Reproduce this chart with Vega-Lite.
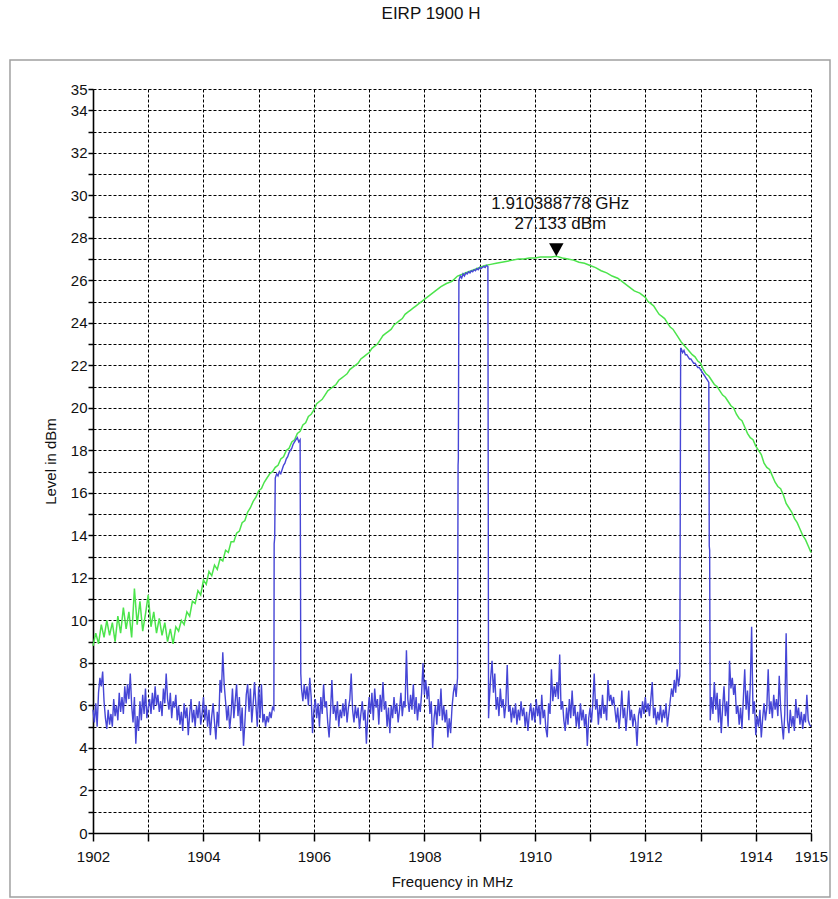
{
  "$schema": "https://vega.github.io/schema/vega-lite/v6.json",
  "width": 718,
  "height": 744,
  "autosize": {"type": "none"},
  "padding": {"left": 93, "top": 89, "right": 27, "bottom": 66},
  "background": "white",
  "title": {"text": "EIRP 1900 H", "fontSize": 17, "fontWeight": "normal", "font": "Liberation Sans", "color": "#111", "offset": 36, "dx": -21},
  "config": {
    "view": {"stroke": null},
    "font": "Liberation Sans",
    "axis": {
      "domainColor": "#000", "domainWidth": 1.6,
      "tickColor": "#000", "tickWidth": 1.5,
      "grid": true, "gridColor": "#000", "gridDash": [3, 2], "gridWidth": 1, "gridOpacity": 1,
      "labelFont": "Liberation Sans", "labelFontSize": 15, "labelColor": "#111",
      "labelFlush": false, "labelOverlap": false,
      "titleFont": "Liberation Sans", "titleFontSize": 15, "titleFontWeight": "normal", "titleColor": "#111"
    }
  },
  "datasets": {
    "maxhold": [
      {"f":1902.00,"v":8.8},{"f":1902.05,"v":9.4},{"f":1902.10,"v":8.9},{"f":1902.15,"v":9.8},{"f":1902.20,"v":9.2},{"f":1902.25,"v":10.0},{"f":1902.30,"v":9.3},{"f":1902.35,"v":9.9},{"f":1902.40,"v":9.0},{"f":1902.45,"v":10.2},
      {"f":1902.50,"v":9.4},{"f":1902.55,"v":10.6},{"f":1902.60,"v":9.6},{"f":1902.65,"v":10.4},{"f":1902.70,"v":9.2},{"f":1902.75,"v":11.5},{"f":1902.80,"v":9.8},{"f":1902.85,"v":10.9},{"f":1902.90,"v":9.5},{"f":1902.95,"v":10.3},
      {"f":1903.00,"v":11.2},{"f":1903.05,"v":9.7},{"f":1903.10,"v":10.4},{"f":1903.15,"v":9.4},{"f":1903.20,"v":10.1},{"f":1903.25,"v":9.3},{"f":1903.30,"v":9.9},{"f":1903.35,"v":9.0},{"f":1903.40,"v":9.6},{"f":1903.45,"v":8.9},
      {"f":1903.50,"v":9.7},{"f":1903.55,"v":9.5},{"f":1903.60,"v":10.0},{"f":1903.65,"v":9.8},{"f":1903.70,"v":10.4},{"f":1903.75,"v":10.2},{"f":1903.80,"v":10.9},{"f":1903.85,"v":10.8},{"f":1903.90,"v":11.4},{"f":1903.95,"v":11.2},
      {"f":1904.00,"v":11.9},{"f":1904.05,"v":11.7},{"f":1904.10,"v":12.3},{"f":1904.15,"v":12.1},{"f":1904.20,"v":12.6},{"f":1904.25,"v":12.4},{"f":1904.30,"v":12.9},{"f":1904.35,"v":12.8},{"f":1904.40,"v":13.3},{"f":1904.45,"v":13.2},
      {"f":1904.50,"v":13.7},{"f":1904.55,"v":13.7},{"f":1904.60,"v":14.1},{"f":1904.65,"v":14.2},{"f":1904.70,"v":14.6},{"f":1904.75,"v":14.7},{"f":1904.80,"v":15.1},{"f":1904.85,"v":15.3},{"f":1904.90,"v":15.6},{"f":1904.95,"v":15.8},
      {"f":1905.00,"v":16.1},{"f":1905.05,"v":16.2},{"f":1905.10,"v":16.5},{"f":1905.15,"v":16.7},{"f":1905.20,"v":16.9},{"f":1905.25,"v":17.0},{"f":1905.30,"v":17.2},{"f":1905.35,"v":17.3},{"f":1905.40,"v":17.6},{"f":1905.45,"v":17.7},
      {"f":1905.50,"v":18.0},{"f":1905.55,"v":18.1},{"f":1905.60,"v":18.4},{"f":1905.65,"v":18.5},{"f":1905.70,"v":18.8},{"f":1905.75,"v":18.9},{"f":1905.80,"v":19.2},{"f":1905.85,"v":19.3},{"f":1905.90,"v":19.6},{"f":1905.95,"v":19.7},
      {"f":1906.00,"v":19.9},{"f":1906.05,"v":20.2},{"f":1906.10,"v":20.3},{"f":1906.15,"v":20.4},{"f":1906.20,"v":20.6},{"f":1906.25,"v":20.8},{"f":1906.30,"v":20.9},{"f":1906.35,"v":21.0},{"f":1906.40,"v":21.1},{"f":1906.45,"v":21.3},
      {"f":1906.50,"v":21.4},{"f":1906.55,"v":21.5},{"f":1906.60,"v":21.6},{"f":1906.65,"v":21.8},{"f":1906.70,"v":21.9},{"f":1906.75,"v":22.0},{"f":1906.80,"v":22.1},{"f":1906.85,"v":22.3},{"f":1906.90,"v":22.4},{"f":1906.95,"v":22.5},
      {"f":1907.00,"v":22.6},{"f":1907.05,"v":22.8},{"f":1907.10,"v":22.9},{"f":1907.15,"v":23.0},{"f":1907.20,"v":23.2},{"f":1907.25,"v":23.4},{"f":1907.30,"v":23.5},{"f":1907.35,"v":23.6},{"f":1907.40,"v":23.7},{"f":1907.45,"v":23.9},
      {"f":1907.50,"v":24.0},{"f":1907.55,"v":24.1},{"f":1907.60,"v":24.2},{"f":1907.65,"v":24.4},{"f":1907.70,"v":24.5},{"f":1907.75,"v":24.6},{"f":1907.80,"v":24.7},{"f":1907.85,"v":24.8},{"f":1907.90,"v":24.9},{"f":1907.95,"v":25.0},
      {"f":1908.0,"v":25.1},{"f":1908.1,"v":25.3},{"f":1908.2,"v":25.5},{"f":1908.3,"v":25.7},{"f":1908.4,"v":25.85},{"f":1908.5,"v":25.95},{"f":1908.6,"v":26.2},{"f":1908.7,"v":26.3},{"f":1908.8,"v":26.4},{"f":1908.9,"v":26.5},
      {"f":1909.0,"v":26.6},{"f":1909.1,"v":26.7},{"f":1909.2,"v":26.75},{"f":1909.3,"v":26.8},{"f":1909.4,"v":26.85},{"f":1909.5,"v":26.9},{"f":1909.6,"v":26.95},{"f":1909.7,"v":27.0},{"f":1909.8,"v":27.0},{"f":1909.9,"v":27.05},
      {"f":1910.0,"v":27.05},{"f":1910.1,"v":27.1},{"f":1910.2,"v":27.1},{"f":1910.3,"v":27.1},{"f":1910.389,"v":27.133},{"f":1910.5,"v":27.05},{"f":1910.6,"v":27.0},{"f":1910.7,"v":26.95},{"f":1910.8,"v":26.85},{"f":1910.9,"v":26.8},
      {"f":1911.0,"v":26.7},{"f":1911.1,"v":26.6},{"f":1911.2,"v":26.45},{"f":1911.3,"v":26.35},{"f":1911.4,"v":26.2},{"f":1911.5,"v":26.1},{"f":1911.6,"v":25.9},{"f":1911.7,"v":25.7},{"f":1911.8,"v":25.5},{"f":1911.9,"v":25.4},
      {"f":1912.00,"v":25.2},{"f":1912.05,"v":25.0},{"f":1912.10,"v":24.9},{"f":1912.15,"v":24.8},{"f":1912.20,"v":24.6},{"f":1912.25,"v":24.4},{"f":1912.30,"v":24.3},{"f":1912.35,"v":24.2},{"f":1912.40,"v":24.0},{"f":1912.45,"v":23.8},
      {"f":1912.50,"v":23.7},{"f":1912.55,"v":23.5},{"f":1912.60,"v":23.3},{"f":1912.65,"v":23.1},{"f":1912.70,"v":22.95},{"f":1912.75,"v":22.8},{"f":1912.80,"v":22.65},{"f":1912.85,"v":22.5},{"f":1912.90,"v":22.4},{"f":1912.95,"v":22.2},
      {"f":1913.00,"v":22.1},{"f":1913.05,"v":21.8},{"f":1913.10,"v":21.6},{"f":1913.15,"v":21.5},{"f":1913.20,"v":21.3},{"f":1913.25,"v":21.1},{"f":1913.30,"v":21.0},{"f":1913.35,"v":20.8},{"f":1913.40,"v":20.6},{"f":1913.45,"v":20.5},
      {"f":1913.50,"v":20.3},{"f":1913.55,"v":20.1},{"f":1913.60,"v":20.0},{"f":1913.65,"v":19.7},{"f":1913.70,"v":19.5},{"f":1913.75,"v":19.4},{"f":1913.80,"v":19.1},{"f":1913.85,"v":18.8},{"f":1913.90,"v":18.6},{"f":1913.95,"v":18.5},
      {"f":1914.00,"v":18.2},{"f":1914.05,"v":18.0},{"f":1914.10,"v":17.8},{"f":1914.15,"v":17.4},{"f":1914.20,"v":17.2},{"f":1914.25,"v":17.1},{"f":1914.30,"v":16.8},{"f":1914.35,"v":16.5},{"f":1914.40,"v":16.3},{"f":1914.45,"v":16.2},
      {"f":1914.50,"v":15.9},{"f":1914.55,"v":15.5},{"f":1914.60,"v":15.3},{"f":1914.65,"v":15.1},{"f":1914.70,"v":14.8},{"f":1914.75,"v":14.6},{"f":1914.80,"v":14.3},{"f":1914.85,"v":14.0},{"f":1914.90,"v":13.8},{"f":1914.95,"v":13.5},
      {"f":1915.0,"v":13.2}
    ],
    "clearwrite": [
      {"f":1902.000,"v":5.8},{"f":1902.025,"v":5.2},{"f":1902.050,"v":6.1},{"f":1902.075,"v":5.0},{"f":1902.100,"v":6.6},{"f":1902.125,"v":7.3},{"f":1902.150,"v":6.9},{"f":1902.175,"v":7.6},
      {"f":1902.200,"v":6.2},{"f":1902.225,"v":5.4},{"f":1902.250,"v":4.9},{"f":1902.275,"v":5.8},{"f":1902.300,"v":5.1},{"f":1902.325,"v":5.6},{"f":1902.350,"v":5.0},{"f":1902.375,"v":6.3},
      {"f":1902.400,"v":5.5},{"f":1902.425,"v":6.0},{"f":1902.450,"v":5.3},{"f":1902.475,"v":6.6},{"f":1902.500,"v":5.7},{"f":1902.525,"v":6.4},{"f":1902.550,"v":5.6},{"f":1902.575,"v":6.9},
      {"f":1902.600,"v":6.1},{"f":1902.625,"v":7.0},{"f":1902.650,"v":6.3},{"f":1902.675,"v":7.5},{"f":1902.700,"v":6.0},{"f":1902.725,"v":5.2},{"f":1902.750,"v":6.4},{"f":1902.775,"v":4.2},
      {"f":1902.800,"v":5.5},{"f":1902.825,"v":4.8},{"f":1902.850,"v":6.2},{"f":1902.875,"v":5.3},{"f":1902.900,"v":6.5},{"f":1902.925,"v":5.6},{"f":1902.950,"v":6.8},{"f":1902.975,"v":5.4},
      {"f":1903.000,"v":5.9},{"f":1903.025,"v":6.3},{"f":1903.050,"v":5.6},{"f":1903.075,"v":6.6},{"f":1903.100,"v":5.8},{"f":1903.125,"v":6.9},{"f":1903.150,"v":6.0},{"f":1903.175,"v":6.5},
      {"f":1903.200,"v":5.7},{"f":1903.225,"v":6.2},{"f":1903.250,"v":5.5},{"f":1903.275,"v":6.8},{"f":1903.300,"v":6.1},{"f":1903.325,"v":7.5},{"f":1903.350,"v":6.3},{"f":1903.375,"v":5.8},
      {"f":1903.400,"v":6.6},{"f":1903.425,"v":5.4},{"f":1903.450,"v":6.2},{"f":1903.475,"v":5.9},{"f":1903.500,"v":6.5},{"f":1903.525,"v":5.3},{"f":1903.550,"v":6.0},{"f":1903.575,"v":5.1},
      {"f":1903.600,"v":5.7},{"f":1903.625,"v":4.8},{"f":1903.650,"v":6.1},{"f":1903.675,"v":5.4},{"f":1903.700,"v":5.9},{"f":1903.725,"v":4.6},{"f":1903.750,"v":5.6},{"f":1903.775,"v":6.3},
      {"f":1903.800,"v":5.2},{"f":1903.825,"v":5.8},{"f":1903.850,"v":5.0},{"f":1903.875,"v":6.0},{"f":1903.900,"v":5.4},{"f":1903.925,"v":6.2},{"f":1903.950,"v":5.1},{"f":1903.975,"v":5.6},
      {"f":1904.000,"v":6.4},{"f":1904.025,"v":5.3},{"f":1904.050,"v":6.0},{"f":1904.075,"v":5.0},{"f":1904.100,"v":5.8},{"f":1904.125,"v":4.6},{"f":1904.150,"v":5.5},{"f":1904.175,"v":6.1},
      {"f":1904.200,"v":5.2},{"f":1904.225,"v":4.4},{"f":1904.250,"v":5.7},{"f":1904.275,"v":5.0},{"f":1904.300,"v":7.2},{"f":1904.325,"v":6.6},{"f":1904.350,"v":8.5},{"f":1904.375,"v":7.0},
      {"f":1904.400,"v":6.2},{"f":1904.425,"v":5.3},{"f":1904.450,"v":6.0},{"f":1904.475,"v":4.9},{"f":1904.500,"v":5.6},{"f":1904.525,"v":6.8},{"f":1904.550,"v":5.4},{"f":1904.575,"v":6.2},
      {"f":1904.600,"v":7.0},{"f":1904.625,"v":5.5},{"f":1904.650,"v":6.4},{"f":1904.675,"v":4.8},{"f":1904.700,"v":5.9},{"f":1904.725,"v":4.1},{"f":1904.750,"v":5.2},{"f":1904.775,"v":6.5},
      {"f":1904.800,"v":7.0},{"f":1904.825,"v":5.7},{"f":1904.850,"v":6.8},{"f":1904.875,"v":5.2},{"f":1904.900,"v":6.1},{"f":1904.925,"v":7.1},{"f":1904.950,"v":6.0},{"f":1904.975,"v":5.0},
      {"f":1905.000,"v":6.9},{"f":1905.025,"v":5.4},{"f":1905.050,"v":7.0},{"f":1905.075,"v":5.2},{"f":1905.100,"v":5.6},{"f":1905.125,"v":5.0},{"f":1905.150,"v":5.5},{"f":1905.175,"v":5.2},
      {"f":1905.200,"v":5.7},{"f":1905.225,"v":5.4},{"f":1905.250,"v":5.9},{"f":1905.275,"v":5.8},
      {"f":1905.280,"v":13.6},{"f":1905.290,"v":13.9},{"f":1905.300,"v":16.7},{"f":1905.325,"v":16.9},{"f":1905.350,"v":16.8},{"f":1905.375,"v":17.0},{"f":1905.400,"v":16.9},{"f":1905.425,"v":17.1},
      {"f":1905.450,"v":17.3},{"f":1905.475,"v":17.4},{"f":1905.500,"v":17.6},{"f":1905.525,"v":17.7},{"f":1905.550,"v":17.9},{"f":1905.575,"v":18.0},{"f":1905.600,"v":18.1},{"f":1905.625,"v":18.3},
      {"f":1905.650,"v":18.4},{"f":1905.675,"v":18.5},{"f":1905.700,"v":18.6},{"f":1905.725,"v":18.4},{"f":1905.750,"v":18.5},{"f":1905.762,"v":7.5},
      {"f":1905.775,"v":6.8},{"f":1905.800,"v":6.2},{"f":1905.825,"v":7.0},{"f":1905.850,"v":6.3},{"f":1905.875,"v":6.9},{"f":1905.900,"v":6.0},{"f":1905.925,"v":7.3},{"f":1905.950,"v":6.4},{"f":1905.975,"v":4.7},
      {"f":1906.000,"v":5.8},{"f":1906.025,"v":6.3},{"f":1906.050,"v":5.4},{"f":1906.075,"v":6.1},{"f":1906.100,"v":5.0},{"f":1906.125,"v":6.4},{"f":1906.150,"v":5.6},{"f":1906.175,"v":7.0},
      {"f":1906.200,"v":5.9},{"f":1906.225,"v":6.2},{"f":1906.250,"v":5.2},{"f":1906.275,"v":4.5},{"f":1906.300,"v":5.7},{"f":1906.325,"v":7.2},{"f":1906.350,"v":5.6},{"f":1906.375,"v":6.0},
      {"f":1906.400,"v":5.3},{"f":1906.425,"v":6.2},{"f":1906.450,"v":5.0},{"f":1906.475,"v":5.8},{"f":1906.500,"v":5.4},{"f":1906.525,"v":6.1},{"f":1906.550,"v":5.5},{"f":1906.575,"v":6.3},
      {"f":1906.600,"v":5.2},{"f":1906.625,"v":5.9},{"f":1906.650,"v":6.3},{"f":1906.675,"v":7.5},{"f":1906.700,"v":5.8},{"f":1906.725,"v":5.2},{"f":1906.750,"v":6.0},{"f":1906.775,"v":5.4},
      {"f":1906.800,"v":5.9},{"f":1906.825,"v":4.9},{"f":1906.850,"v":5.6},{"f":1906.875,"v":6.2},{"f":1906.900,"v":5.3},{"f":1906.925,"v":5.8},{"f":1906.950,"v":4.2},{"f":1906.975,"v":5.5},
      {"f":1907.000,"v":6.4},{"f":1907.025,"v":5.6},{"f":1907.050,"v":6.6},{"f":1907.075,"v":5.3},{"f":1907.100,"v":6.8},{"f":1907.125,"v":5.9},{"f":1907.150,"v":6.3},{"f":1907.175,"v":5.1},
      {"f":1907.200,"v":6.5},{"f":1907.225,"v":5.7},{"f":1907.250,"v":7.1},{"f":1907.275,"v":5.8},{"f":1907.300,"v":6.2},{"f":1907.325,"v":5.0},{"f":1907.350,"v":5.9},{"f":1907.375,"v":4.7},
      {"f":1907.400,"v":6.0},{"f":1907.425,"v":5.4},{"f":1907.450,"v":6.4},{"f":1907.475,"v":5.6},{"f":1907.500,"v":6.1},{"f":1907.525,"v":5.2},{"f":1907.550,"v":5.8},{"f":1907.575,"v":6.6},
      {"f":1907.600,"v":5.5},{"f":1907.625,"v":6.2},{"f":1907.650,"v":5.9},{"f":1907.675,"v":8.6},{"f":1907.700,"v":6.3},{"f":1907.725,"v":5.7},{"f":1907.750,"v":6.5},{"f":1907.775,"v":5.8},
      {"f":1907.800,"v":7.0},{"f":1907.825,"v":5.6},{"f":1907.850,"v":6.4},{"f":1907.875,"v":5.3},{"f":1907.900,"v":6.1},{"f":1907.925,"v":5.7},{"f":1907.950,"v":6.6},{"f":1907.975,"v":8.0},
      {"f":1908.000,"v":6.5},{"f":1908.025,"v":7.2},{"f":1908.050,"v":6.3},{"f":1908.075,"v":6.9},{"f":1908.100,"v":5.6},{"f":1908.125,"v":6.2},{"f":1908.150,"v":4.0},{"f":1908.175,"v":5.4},
      {"f":1908.200,"v":6.0},{"f":1908.225,"v":5.1},{"f":1908.250,"v":6.3},{"f":1908.275,"v":5.5},{"f":1908.300,"v":6.8},{"f":1908.325,"v":5.3},{"f":1908.350,"v":6.0},{"f":1908.375,"v":5.2},
      {"f":1908.400,"v":5.8},{"f":1908.425,"v":4.5},{"f":1908.450,"v":5.4},{"f":1908.475,"v":4.7},{"f":1908.500,"v":5.9},{"f":1908.525,"v":6.6},{"f":1908.550,"v":7.0},{"f":1908.575,"v":6.4},{"f":1908.600,"v":7.3},
      {"f":1908.610,"v":17.3},{"f":1908.615,"v":17.6},{"f":1908.625,"v":26.0},{"f":1908.650,"v":26.2},{"f":1908.675,"v":26.1},{"f":1908.700,"v":26.3},{"f":1908.725,"v":26.2},{"f":1908.750,"v":26.35},
      {"f":1908.775,"v":26.3},{"f":1908.800,"v":26.4},{"f":1908.825,"v":26.35},{"f":1908.850,"v":26.45},{"f":1908.875,"v":26.4},{"f":1908.900,"v":26.5},{"f":1908.925,"v":26.45},{"f":1908.950,"v":26.55},
      {"f":1908.975,"v":26.5},{"f":1909.000,"v":26.6},{"f":1909.025,"v":26.55},{"f":1909.050,"v":26.6},{"f":1909.075,"v":26.65},{"f":1909.100,"v":26.6},{"f":1909.125,"v":26.7},{"f":1909.150,"v":26.65},{"f":1909.162,"v":5.4},
      {"f":1909.175,"v":6.2},{"f":1909.200,"v":7.3},{"f":1909.225,"v":8.1},{"f":1909.250,"v":6.6},{"f":1909.275,"v":7.5},{"f":1909.300,"v":5.8},{"f":1909.325,"v":6.4},{"f":1909.350,"v":5.5},
      {"f":1909.375,"v":6.8},{"f":1909.400,"v":5.9},{"f":1909.425,"v":6.3},{"f":1909.450,"v":5.4},{"f":1909.475,"v":6.1},{"f":1909.500,"v":7.9},{"f":1909.525,"v":5.7},{"f":1909.550,"v":6.0},
      {"f":1909.575,"v":5.2},{"f":1909.600,"v":5.9},{"f":1909.625,"v":5.4},{"f":1909.650,"v":6.1},{"f":1909.675,"v":5.1},{"f":1909.700,"v":5.8},{"f":1909.725,"v":5.3},{"f":1909.750,"v":6.2},
      {"f":1909.775,"v":5.5},{"f":1909.800,"v":5.9},{"f":1909.825,"v":5.0},{"f":1909.850,"v":5.7},{"f":1909.875,"v":4.8},{"f":1909.900,"v":5.6},{"f":1909.925,"v":6.1},{"f":1909.950,"v":5.3},
      {"f":1909.975,"v":5.9},{"f":1910.000,"v":5.2},{"f":1910.025,"v":6.3},{"f":1910.050,"v":5.5},{"f":1910.075,"v":6.0},{"f":1910.100,"v":5.1},{"f":1910.125,"v":6.5},{"f":1910.150,"v":5.4},
      {"f":1910.175,"v":5.8},{"f":1910.200,"v":4.9},{"f":1910.225,"v":4.5},{"f":1910.250,"v":6.1},{"f":1910.275,"v":5.6},{"f":1910.300,"v":7.7},{"f":1910.325,"v":6.2},{"f":1910.350,"v":6.9},
      {"f":1910.375,"v":6.4},{"f":1910.400,"v":7.1},{"f":1910.425,"v":6.3},{"f":1910.450,"v":8.4},{"f":1910.475,"v":5.8},{"f":1910.500,"v":6.2},{"f":1910.525,"v":5.3},{"f":1910.550,"v":4.8},
      {"f":1910.575,"v":5.9},{"f":1910.600,"v":5.1},{"f":1910.625,"v":6.3},{"f":1910.650,"v":5.4},{"f":1910.675,"v":6.7},{"f":1910.700,"v":5.5},{"f":1910.725,"v":6.0},{"f":1910.750,"v":5.0},
      {"f":1910.775,"v":5.7},{"f":1910.800,"v":4.9},{"f":1910.825,"v":6.1},{"f":1910.850,"v":5.3},{"f":1910.875,"v":5.8},{"f":1910.900,"v":5.0},{"f":1910.925,"v":5.6},{"f":1910.950,"v":4.1},
      {"f":1910.975,"v":5.4},{"f":1911.000,"v":5.9},{"f":1911.025,"v":5.2},{"f":1911.050,"v":6.1},{"f":1911.075,"v":7.5},{"f":1911.100,"v":5.8},{"f":1911.125,"v":6.3},{"f":1911.150,"v":5.1},
      {"f":1911.175,"v":6.0},{"f":1911.200,"v":5.4},{"f":1911.225,"v":6.5},{"f":1911.250,"v":5.6},{"f":1911.275,"v":6.0},{"f":1911.300,"v":5.3},{"f":1911.325,"v":7.2},{"f":1911.350,"v":6.2},
      {"f":1911.375,"v":6.5},{"f":1911.400,"v":6.0},{"f":1911.425,"v":6.4},{"f":1911.450,"v":5.8},{"f":1911.475,"v":5.2},{"f":1911.500,"v":5.9},{"f":1911.525,"v":4.9},{"f":1911.550,"v":5.6},
      {"f":1911.575,"v":6.7},{"f":1911.600,"v":5.4},{"f":1911.625,"v":5.9},{"f":1911.650,"v":4.8},{"f":1911.675,"v":5.7},{"f":1911.700,"v":6.7},{"f":1911.725,"v":5.3},{"f":1911.750,"v":5.8},
      {"f":1911.775,"v":5.0},{"f":1911.800,"v":5.6},{"f":1911.825,"v":5.2},{"f":1911.850,"v":4.1},{"f":1911.875,"v":5.5},{"f":1911.900,"v":5.9},{"f":1911.925,"v":5.4},{"f":1911.950,"v":6.2},
      {"f":1911.975,"v":5.6},{"f":1912.000,"v":6.4},{"f":1912.025,"v":5.7},{"f":1912.050,"v":6.1},{"f":1912.075,"v":5.5},{"f":1912.100,"v":6.3},{"f":1912.125,"v":7.1},{"f":1912.150,"v":5.4},
      {"f":1912.175,"v":5.9},{"f":1912.200,"v":5.1},{"f":1912.225,"v":5.7},{"f":1912.250,"v":5.3},{"f":1912.275,"v":6.0},{"f":1912.300,"v":5.2},{"f":1912.325,"v":5.8},{"f":1912.350,"v":5.4},
      {"f":1912.375,"v":6.1},{"f":1912.400,"v":5.0},{"f":1912.425,"v":5.6},{"f":1912.450,"v":6.2},{"f":1912.475,"v":6.8},{"f":1912.500,"v":6.4},{"f":1912.525,"v":7.2},{"f":1912.550,"v":6.6},
      {"f":1912.575,"v":7.7},{"f":1912.600,"v":6.9},{"f":1912.625,"v":7.4},
      {"f":1912.640,"v":22.8},{"f":1912.650,"v":22.8},{"f":1912.675,"v":22.6},{"f":1912.700,"v":22.7},{"f":1912.725,"v":22.5},{"f":1912.750,"v":22.5},{"f":1912.775,"v":22.4},{"f":1912.800,"v":22.3},
      {"f":1912.825,"v":22.3},{"f":1912.850,"v":22.2},{"f":1912.875,"v":22.1},{"f":1912.900,"v":22.1},{"f":1912.925,"v":22.0},{"f":1912.950,"v":21.9},{"f":1912.975,"v":21.9},{"f":1913.000,"v":21.8},
      {"f":1913.025,"v":21.7},{"f":1913.050,"v":21.6},{"f":1913.075,"v":21.5},{"f":1913.100,"v":21.4},{"f":1913.125,"v":21.3},{"f":1913.150,"v":21.2},{"f":1913.158,"v":13.5},{"f":1913.165,"v":13.3},{"f":1913.175,"v":5.3},
      {"f":1913.200,"v":6.4},{"f":1913.225,"v":5.6},{"f":1913.250,"v":7.1},{"f":1913.275,"v":5.8},{"f":1913.300,"v":6.6},{"f":1913.325,"v":5.2},{"f":1913.350,"v":6.3},{"f":1913.375,"v":4.7},
      {"f":1913.400,"v":5.9},{"f":1913.425,"v":6.9},{"f":1913.450,"v":5.5},{"f":1913.475,"v":6.2},{"f":1913.500,"v":5.0},{"f":1913.525,"v":8.1},{"f":1913.550,"v":6.8},{"f":1913.575,"v":7.3},
      {"f":1913.600,"v":6.5},{"f":1913.625,"v":7.0},{"f":1913.650,"v":5.6},{"f":1913.675,"v":6.0},{"f":1913.700,"v":5.1},{"f":1913.725,"v":5.9},{"f":1913.750,"v":4.9},{"f":1913.775,"v":6.3},
      {"f":1913.800,"v":7.7},{"f":1913.825,"v":5.8},{"f":1913.850,"v":6.7},{"f":1913.875,"v":5.3},{"f":1913.900,"v":6.9},{"f":1913.925,"v":9.7},{"f":1913.950,"v":5.6},{"f":1913.975,"v":6.2},
      {"f":1914.000,"v":4.6},{"f":1914.025,"v":5.5},{"f":1914.050,"v":5.0},{"f":1914.075,"v":5.8},{"f":1914.100,"v":4.5},{"f":1914.125,"v":5.4},{"f":1914.150,"v":6.1},{"f":1914.175,"v":5.3},
      {"f":1914.200,"v":5.9},{"f":1914.225,"v":7.7},{"f":1914.250,"v":5.6},{"f":1914.275,"v":6.2},{"f":1914.300,"v":5.4},{"f":1914.325,"v":6.5},{"f":1914.350,"v":5.8},{"f":1914.375,"v":6.3},
      {"f":1914.400,"v":5.5},{"f":1914.425,"v":7.4},{"f":1914.450,"v":5.9},{"f":1914.475,"v":5.1},{"f":1914.500,"v":4.4},{"f":1914.525,"v":5.6},{"f":1914.550,"v":9.4},{"f":1914.575,"v":5.3},
      {"f":1914.600,"v":4.7},{"f":1914.625,"v":5.8},{"f":1914.650,"v":5.0},{"f":1914.675,"v":5.5},{"f":1914.700,"v":4.8},{"f":1914.725,"v":6.3},{"f":1914.750,"v":5.4},{"f":1914.775,"v":5.9},
      {"f":1914.800,"v":5.1},{"f":1914.825,"v":5.7},{"f":1914.850,"v":4.9},{"f":1914.875,"v":5.6},{"f":1914.900,"v":5.2},{"f":1914.925,"v":6.5},{"f":1914.950,"v":5.3},{"f":1914.975,"v":5.1},{"f":1915.000,"v":5.0}
    ],
    "marker": [
      {"f":1910.388778,"v":27.133,"freq":"1.910388778 GHz","level":"27.133 dBm"}
    ]
  },
  "encoding": {
    "x": {
      "field": "f", "type": "quantitative",
      "scale": {"domain": [1902, 1915], "nice": false, "zero": false},
      "axis": {
        "title": "Frequency in MHz", "format": "d",
        "values": [1902,1903,1904,1905,1906,1907,1908,1909,1910,1911,1912,1913,1914,1915],
        "labelExpr": "datum.value % 2 == 0 || datum.value == 1915 ? datum.label : ''",
        "tickSize": 8, "labelPadding": 8, "titlePadding": 10
      }
    },
    "y": {
      "field": "v", "type": "quantitative",
      "scale": {"domain": [0, 35], "nice": false, "zero": false},
      "axis": {
        "title": "Level in dBm", "format": "d",
        "values": [0,1,2,3,4,5,6,7,8,9,10,11,12,13,14,15,16,17,18,19,20,21,22,23,24,25,26,27,28,29,30,31,32,33,34,35],
        "labelExpr": "datum.value % 2 == 0 || datum.value == 35 ? datum.label : ''",
        "tickSize": 5, "labelPadding": 1, "titlePadding": 12
      }
    }
  },
  "layer": [
    {
      "data": {"name": "marker"},
      "mark": {"type": "rect", "filled": false, "clip": false, "stroke": "#a0a0a0", "strokeWidth": 1.5},
      "encoding": {
        "x": {"datum": 1900.497, "type": "quantitative"}, "x2": {"datum": 1915.344},
        "y": {"datum": 36.36, "type": "quantitative"}, "y2": {"datum": -3.01}
      }
    },
    {
      "data": {"name": "maxhold"},
      "mark": {"type": "line", "color": "#4ce44c", "strokeWidth": 1.5}
    },
    {
      "data": {"name": "clearwrite"},
      "mark": {"type": "line", "color": "#4646d6", "strokeWidth": 1.4}
    },
    {
      "data": {"name": "marker"},
      "mark": {"type": "point", "shape": "M-1,-1.8L1,-1.8L0,0Z", "size": 210, "filled": true, "color": "#000", "opacity": 1}
    },
    {
      "data": {"name": "marker"},
      "mark": {"type": "text", "fontSize": 17, "color": "#111", "dx": 4, "dy": -52, "baseline": "middle", "align": "center"},
      "encoding": {"text": {"field": "freq"}}
    },
    {
      "data": {"name": "marker"},
      "mark": {"type": "text", "fontSize": 17, "color": "#111", "dx": 4, "dy": -32, "baseline": "middle", "align": "center"},
      "encoding": {"text": {"field": "level"}}
    }
  ]
}
